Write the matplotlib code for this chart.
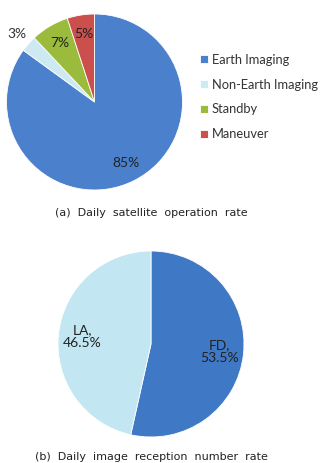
import math

import matplotlib
matplotlib.use("Agg")
import matplotlib.pyplot as plt

W, H = 327, 463

# (a) daily satellite operation rate
op_labels = ["Earth Imaging", "Non-Earth Imaging", "Standby", "Maneuver"]
op_values = [85, 3, 7, 5]
op_colors = ["#4a80cc", "#cde9f1", "#9bbb3c", "#cb504d"]

# (b) daily image reception number rate
rx_labels = ["FD", "LA"]
rx_values = [53.5, 46.5]
rx_colors = ["#3f78c4", "#c2e7f2"]

captions = ["(a)  Daily  satellite  operation  rate",
            "(b)  Daily  image  reception  number  rate"]

lbl_font = "Lato"

fig = plt.figure(figsize=(W / 100, H / 100), dpi=100)


def px_axes(cx, cy, r):
    return fig.add_axes([(cx - r) / W, 1 - (cy + r) / H, 2 * r / W, 2 * r / H])


# pie (a)
ax1 = px_axes(94.5, 102, 88)
wedges, texts = ax1.pie(op_values, colors=op_colors, startangle=90,
                        counterclock=False,
                        wedgeprops=dict(edgecolor="white", linewidth=0.6))
for w, v in zip(wedges, op_values):
    mid = math.radians((w.theta1 + w.theta2) / 2)
    d = 1.17 if v == 3 else 0.78
    ax1.text(d * math.cos(mid), d * math.sin(mid), f"{v}%",
             ha="center", va="center", fontsize=10, family=lbl_font,
             color="#333333" if v == 3 else "#222222")
ax1.set_xlim(-1, 1); ax1.set_ylim(-1, 1)
ax1.set_aspect("equal")
ax1.axis("off")

leg = fig.legend(wedges, op_labels, loc="upper left",
                 bbox_to_anchor=(188 / W, 1 - 42 / H), frameon=False,
                 prop=dict(family=lbl_font, size=9.3), handlelength=0.65,
                 handleheight=0.65, handletextpad=0.3, labelspacing=1.0,
                 labelcolor="#333333")

fig.text(151 / W, 1 - 213 / H, captions[0], ha="center", va="center",
         fontsize=8, color="#222222")

# pie (b)
ax2 = px_axes(151, 344, 93)
wedges2, _ = ax2.pie(rx_values, colors=rx_colors, startangle=90,
                     counterclock=False,
                     wedgeprops=dict(edgecolor="white", linewidth=0.6))
for w, lab, v in zip(wedges2, rx_labels, rx_values):
    mid = math.radians((w.theta1 + w.theta2) / 2)
    d = 0.74
    ax2.text(d * math.cos(mid), d * math.sin(mid), f"{lab},\n{v}%",
             ha="center", va="center", fontsize=10, family=lbl_font,
             color="#222222", linespacing=1.1)
ax2.set_xlim(-1, 1); ax2.set_ylim(-1, 1)
ax2.set_aspect("equal")
ax2.axis("off")

fig.text(151 / W, 1 - 462 / H, captions[1], ha="center", va="bottom",
         fontsize=8, color="#222222")

fig.savefig("out.png", dpi=100)
